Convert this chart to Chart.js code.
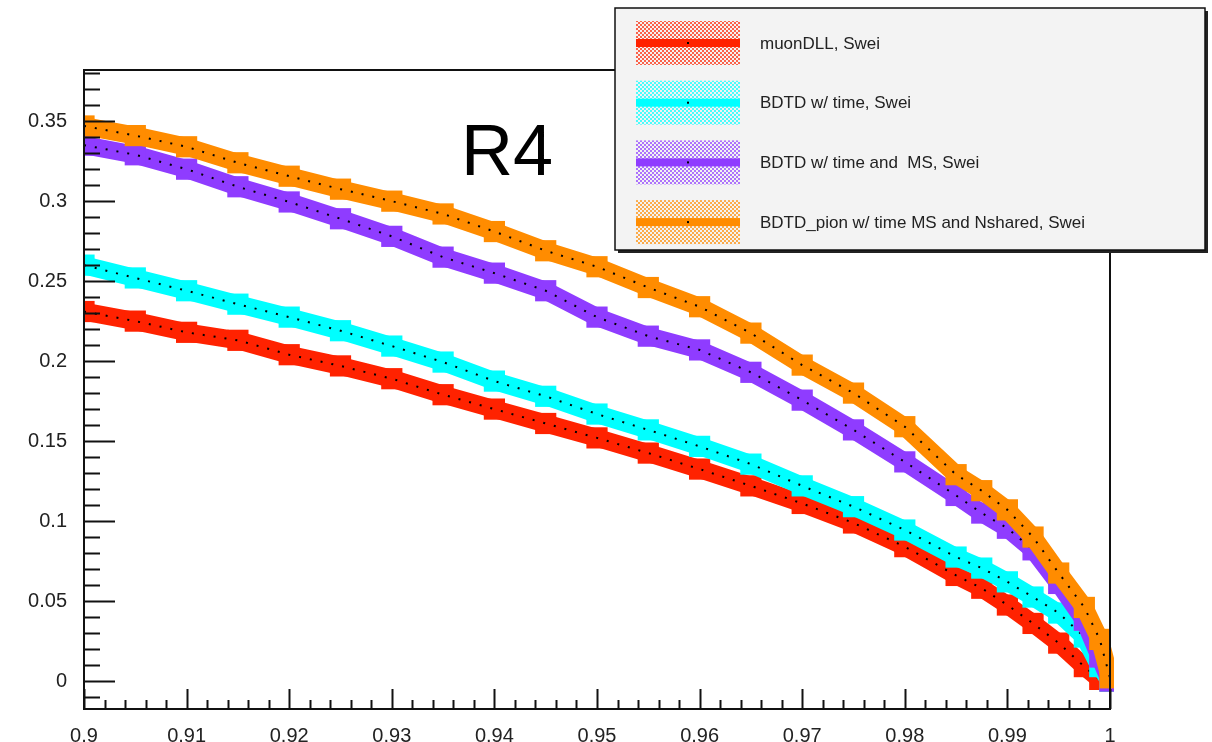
<!DOCTYPE html>
<html>
<head>
<meta charset="utf-8">
<script src="https://cdn.jsdelivr.net/npm/chart.js@4.4.1/dist/chart.umd.min.js"></script>
<style>
  html, body { margin: 0; padding: 0; background: #fff; }
  #wrap { position: relative; width: 1212px; height: 742px; }
</style>
</head>
<body>
<div id="wrap"><canvas id="effChart"></canvas></div>
<script>
// signal efficiency (x) and background retention (y)
const effX = [0.9, 0.905, 0.91, 0.915, 0.92, 0.925, 0.93, 0.935, 0.94, 0.945, 0.95, 0.955, 0.96, 0.965, 0.97, 0.975, 0.98, 0.985, 0.9875, 0.99, 0.9925, 0.995, 0.9975, 0.999, 1.0];
const muonDLL = [0.231, 0.225, 0.218, 0.213, 0.204, 0.197, 0.189, 0.179, 0.170, 0.161, 0.152, 0.1425, 0.1325, 0.122, 0.111, 0.0988, 0.084, 0.066, 0.058, 0.0475, 0.036, 0.0237, 0.009, 0.001, 0.0];
const bdtdTime = [0.26, 0.252, 0.244, 0.2356, 0.2275, 0.219, 0.2094, 0.1994, 0.1875, 0.178, 0.1669, 0.157, 0.1467, 0.1356, 0.122, 0.109, 0.0944, 0.0775, 0.0706, 0.062, 0.0525, 0.0425, 0.0275, 0.009, 0.0];
const bdtdTimeMS = [0.335, 0.329, 0.320, 0.309, 0.2995, 0.289, 0.278, 0.265, 0.255, 0.244, 0.2275, 0.2156, 0.207, 0.193, 0.1756, 0.157, 0.137, 0.116, 0.105, 0.0955, 0.082, 0.061, 0.038, 0.015, 0.0];
const bdtdPion = [0.347, 0.341, 0.334, 0.324, 0.3156, 0.3075, 0.300, 0.292, 0.281, 0.269, 0.259, 0.246, 0.234, 0.2175, 0.1975, 0.18, 0.159, 0.129, 0.119, 0.107, 0.09, 0.0675, 0.046, 0.026, 0.002];

const seriesNames = ['muonDLL, Swei', 'BDTD w/ time, Swei', 'BDTD w/ time and  MS, Swei', 'BDTD_pion w/ time MS and Nshared, Swei'];
const seriesColors = ['#ff2200', '#00ffff', '#8f3cff', '#ff8c00'];

const xTicks = [0.9, 0.91, 0.92, 0.93, 0.94, 0.95, 0.96, 0.97, 0.98, 0.99, 1.0];
const xTickLabels = ['0.9', '0.91', '0.92', '0.93', '0.94', '0.95', '0.96', '0.97', '0.98', '0.99', '1'];
const yTicks = [0, 0.05, 0.1, 0.15, 0.2, 0.25, 0.3, 0.35];
const yTickLabels = ['0', '0.05', '0.1', '0.15', '0.2', '0.25', '0.3', '0.35'];

const FONT = '"Liberation Sans", Arial, Helvetica, sans-serif';

function toPoints(ys) {
    return effX.map((x, i) => ({ x: x, y: ys[i] }));
}

function dotPattern(color) {
    const c = document.createElement('canvas');
    c.width = 4; c.height = 4;
    const g = c.getContext('2d');
    g.fillStyle = color;
    g.globalAlpha = 0.7;
    g.fillRect(0, 0, 2, 2);
    g.fillRect(2, 2, 2, 2);
    return c;
}

// frame, inward ticks (ROOT style), black dotted centre lines, title, legend
const rootStyle = {
    id: 'rootStyle',
    afterDatasetDraw(chart, args) {
        const pts = args.meta.data;
        const ctx = chart.ctx;
        const a = chart.chartArea;
        ctx.save();
        ctx.beginPath();
        ctx.rect(a.left, a.top, a.right - a.left + 4, a.bottom - a.top);
        ctx.clip();
        ctx.strokeStyle = '#000';
        ctx.lineWidth = 2;
        ctx.setLineDash([2, 9]);
        ctx.beginPath();
        pts.forEach((p, i) => { if (i === 0) ctx.moveTo(p.x, p.y); else ctx.lineTo(p.x, p.y); });
        ctx.stroke();
        ctx.restore();
    },
    afterDraw(chart) {
        const ctx = chart.ctx;
        const a = chart.chartArea;
        const xs = chart.scales.x, ys = chart.scales.y;
        ctx.save();
        ctx.strokeStyle = '#111';
        ctx.lineWidth = 2;
        ctx.strokeRect(a.left, a.top, a.right - a.left, a.bottom - a.top);

        // y ticks
        for (let k = -1; k <= 38; k++) {
            const v = k / 100;
            const py = Math.round(ys.getPixelForValue(v)) + 0.5;
            if (py < a.top || py > a.bottom) continue;
            const len = (k % 5 === 0) ? 31 : 16;
            ctx.beginPath();
            ctx.moveTo(a.left, py);
            ctx.lineTo(a.left + len, py);
            ctx.stroke();
        }
        // x ticks
        for (let k = 0; k <= 50; k++) {
            const v = 0.9 + k * 0.002;
            const px = Math.round(xs.getPixelForValue(v)) + 0.5;
            const len = (k % 5 === 0) ? 20 : 9;
            ctx.beginPath();
            ctx.moveTo(px, a.bottom);
            ctx.lineTo(px, a.bottom - len);
            ctx.stroke();
        }

        // title inside pad
        ctx.fillStyle = '#000';
        ctx.font = '72px ' + FONT;
        ctx.textAlign = 'left';
        ctx.textBaseline = 'alphabetic';
        ctx.fillText('R4', 461, 175);

        // legend box
        const lx = 615, ly = 8, lw = 590, lh = 242;
        ctx.fillStyle = '#222';
        ctx.fillRect(lx + 3, ly + 3, lw, lh);
        ctx.fillStyle = '#f3f3f3';
        ctx.fillRect(lx, ly, lw, lh);
        ctx.strokeStyle = '#111';
        ctx.lineWidth = 1.5;
        ctx.strokeRect(lx, ly, lw, lh);

        chart.data.datasets.forEach((ds, i) => {
            const cy = 43 + i * 59.7;
            ctx.fillStyle = ctx.createPattern(dotPattern(ds.borderColor), 'repeat');
            ctx.fillRect(636, cy - 22, 104, 44);
            ctx.fillStyle = ds.borderColor;
            ctx.fillRect(636, cy - 4, 104, 8);
            ctx.fillStyle = '#000';
            ctx.fillRect(687, cy - 1, 2, 2);
            ctx.fillStyle = '#222';
            ctx.font = '17px ' + FONT;
            ctx.textBaseline = 'middle';
            ctx.fillText(ds.label, 760, cy + 1);
        });
        ctx.restore();
    }
};

const series = [muonDLL, bdtdTime, bdtdTimeMS, bdtdPion];

new Chart(document.getElementById('effChart'), {
    type: 'line',
    data: {
        datasets: series.map((ys, i) => ({
            label: seriesNames[i],
            data: toPoints(ys),
            borderColor: seriesColors[i],
            backgroundColor: seriesColors[i],
            borderWidth: 18,
            borderJoinStyle: 'round',
            pointStyle: 'rect',
            pointRadius: 15,
            pointBorderWidth: 0,
            tension: 0,
            fill: false,
            order: 4 - i,
            clip: { left: 0, top: 0, right: 4, bottom: 0 }
        }))
    },
    options: {
        responsive: true,
        maintainAspectRatio: false,
        animation: false,
        layout: { padding: { top: 70, right: 102, left: 0, bottom: 0 } },
        plugins: {
            legend: { display: false },
            tooltip: { enabled: false }
        },
        scales: {
            x: {
                type: 'linear',
                min: 0.9,
                max: 1.0,
                grid: { display: false },
                border: { display: false },
                afterFit: (s) => { s.height = 33; },
                afterBuildTicks: (s) => { s.ticks = xTicks.map(v => ({ value: v })); },
                ticks: {
                    padding: 7,
                    maxRotation: 0,
                    autoSkip: false,
                    color: '#222',
                    font: { family: FONT, size: 20 },
                    callback: (v, i) => xTickLabels[i]
                }
            },
            y: {
                type: 'linear',
                min: -0.0175,
                max: 0.382,
                grid: { display: false },
                border: { display: false },
                afterFit: (s) => { s.width = 84; },
                afterBuildTicks: (s) => { s.ticks = yTicks.map(v => ({ value: v })); },
                ticks: {
                    padding: 9,
                    autoSkip: false,
                    color: '#222',
                    font: { family: FONT, size: 20 },
                    callback: (v, i) => yTickLabels[i]
                }
            }
        }
    },
    plugins: [rootStyle]
});
</script>
</body>
</html>
